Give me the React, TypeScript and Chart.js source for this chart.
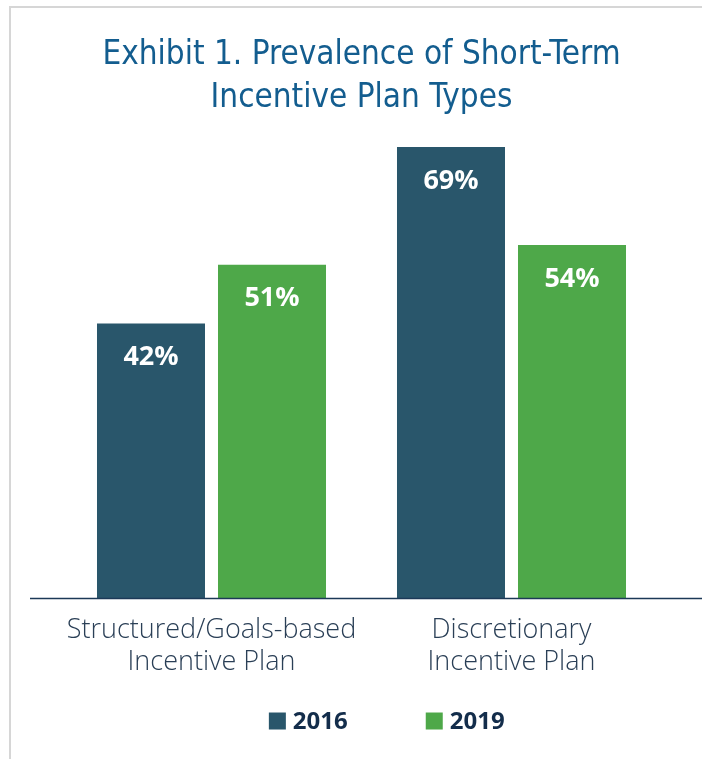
import React, { useEffect, useRef } from "react";
import { Chart, registerables } from "chart.js";

Chart.register(...registerables);

const titleLines = ["Exhibit 1. Prevalence of Short-Term", "Incentive Plan Types"];
const categories = [
  ["Structured/Goals-based", "Incentive Plan"],
  ["Discretionary", "Incentive Plan"],
];
const seriesNames = ["2016", "2019"];
const values2016 = [42, 69];
const values2019 = [51, 54];
const seriesColors = ["#29566B", "#4EA849"];
const yMax = 69;

const valueLabels = {
  id: "valueLabels",
  afterDatasetsDraw(chart: any) {
    const ctx = chart.ctx;
    ctx.save();
    ctx.fillStyle = "#ffffff";
    ctx.font = "bold 27px 'Open Sans', sans-serif";
    ctx.textAlign = "center";
    ctx.textBaseline = "middle";
    chart.data.datasets.forEach((ds: any, di: number) => {
      const meta = chart.getDatasetMeta(di);
      meta.data.forEach((bar: any, i: number) => {
        ctx.fillText(ds.data[i] + "%", bar.x, bar.y + 34);
      });
    });
    ctx.restore();
  },
};

const baseLine = {
  id: "baseLine",
  afterDatasetsDraw(chart: any) {
    const ctx = chart.ctx;
    const y = chart.scales.y.getPixelForValue(0);
    ctx.save();
    ctx.strokeStyle = "#1C3957";
    ctx.lineWidth = 1.5;
    ctx.beginPath();
    ctx.moveTo(chart.chartArea.left - 31.5, y + 0.5);
    ctx.lineTo(chart.width, y + 0.5);
    ctx.stroke();
    ctx.restore();
  },
};

const bottomLegend = {
  id: "bottomLegend",
  afterDraw(chart: any) {
    const ctx = chart.ctx;
    ctx.save();
    ctx.font = "bold 24px 'Open Sans', sans-serif";
    ctx.textBaseline = "middle";
    ctx.textAlign = "left";
    const box = 17;
    const gap = 7;
    const itemGap = 78;
    const items = chart.data.datasets.map((ds: any) => ({
      label: ds.label,
      color: ds.backgroundColor,
      w: ctx.measureText(ds.label).width,
    }));
    const total =
      items.reduce((s: number, it: any) => s + box + gap + it.w, 0) + itemGap * (items.length - 1);
    const center = (chart.chartArea.left + chart.width) / 2 + 5;
    let x = center - total / 2;
    const yc = chart.chartArea.bottom + 123;
    items.forEach((it: any) => {
      ctx.fillStyle = it.color;
      ctx.fillRect(x, yc - box / 2, box, box);
      ctx.fillStyle = "#132D4B";
      ctx.fillText(it.label, x + box + gap, yc + 1);
      x += box + gap + it.w + itemGap;
    });
    ctx.restore();
  },
};

export default function App() {
  const ref = useRef<HTMLCanvasElement | null>(null);
  useEffect(() => {
    if (!ref.current) return;
    const chart = new Chart(ref.current, {
      type: "bar",
      data: {
        labels: categories,
        datasets: [
          {
            label: seriesNames[0],
            data: values2016,
            backgroundColor: seriesColors[0],
            categoryPercentage: 0.8067,
            barPercentage: 0.8926,
          },
          {
            label: seriesNames[1],
            data: values2019,
            backgroundColor: seriesColors[1],
            categoryPercentage: 0.8067,
            barPercentage: 0.8926,
          },
        ],
      },
      options: {
        responsive: false,
        animation: false,
        layout: { padding: { left: 61.5, right: 40.5, top: 0, bottom: 65 } },
        plugins: {
          legend: { display: false },
          tooltip: { enabled: false },
          title: {
            display: true,
            text: titleLines,
            color: "#135D8F",
            font: { family: "'DejaVu Sans Condensed', 'DejaVu Sans', sans-serif", size: 33, weight: "normal", lineHeight: 1.3 },
            padding: { top: 34, bottom: 27.2 },
          },
        },
        scales: {
          x: {
            grid: { display: false, drawTicks: false },
            border: { display: false },
            ticks: {
              color: "#2A3F56",
              font: { family: "'Open Sans', sans-serif", size: 27, weight: "300", lineHeight: 1.185 },
              padding: 16,
              maxRotation: 0,
              autoSkip: false,
            },
          },
          y: {
            display: false,
            min: 0,
            max: yMax,
          },
        },
      },
      plugins: [valueLabels, baseLine, bottomLegend],
    });
    return () => chart.destroy();
  }, []);
  return (
    <div style={{ position: "absolute", left: 0, top: 0, width: 702, height: 759, background: "#fff" }}>
      <div
        style={{
          position: "absolute",
          left: 9,
          top: 6,
          right: 0,
          bottom: 0,
          borderLeft: "2px solid #D6D6D6",
          borderTop: "2px solid #D6D6D6",
        }}
      />
      <canvas ref={ref} width={702} height={759} style={{ position: "absolute", left: 0, top: 0 }} />
    </div>
  );
}
